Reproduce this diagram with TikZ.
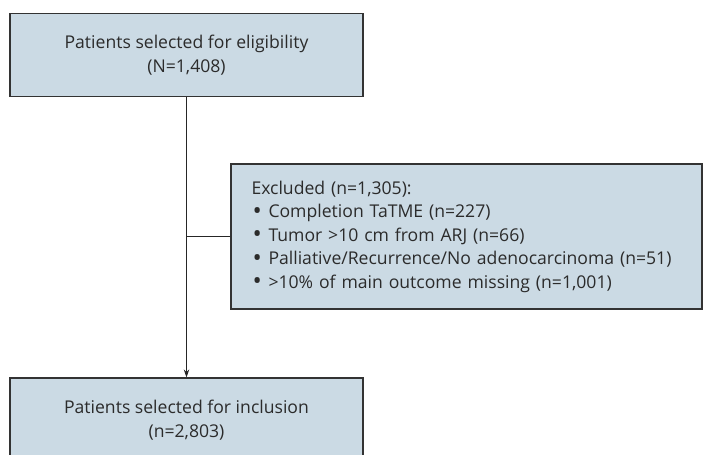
\documentclass[tikz,border=0pt]{standalone}
\usepackage{fontspec}
\setmainfont{Open Sans}
\usetikzlibrary{arrows.meta}
\definecolor{boxfill}{HTML}{CBDAE4}
\definecolor{boxline}{HTML}{333333}
\definecolor{txt}{HTML}{2B2B2B}
\newcommand{\blt}{\makebox[17pt][l]{\hspace{1pt}\raisebox{-1.8pt}{\scalebox{1.4}{\textbullet}}}}
\begin{document}
\begin{tikzpicture}[x=1pt,y=-1pt,
  box/.style={draw=boxline,line width=1.2pt,fill=boxfill,text=txt,inner sep=0pt,
    font=\fontsize{17.6}{23.5}\selectfont,align=center},
  conn/.style={draw=black!85,line width=0.9pt}]
\useasboundingbox (0,0) rectangle (704,455);
\clip (0,0) rectangle (704,455);
\node[box,minimum width=353,minimum height=83] (top) at (186.5,55) {Patients selected for eligibility\\(N=1,408)};
\node[box,minimum width=471,minimum height=145,align=left,text width=430] (excl) at (466.5,236.5)
 {Excluded (n=1,305):\\
  \blt Completion TaTME (n=227)\\
  \blt Tumor >10 cm from ARJ (n=66)\\
  \blt Palliative/Recurrence/No adenocarcinoma (n=51)\\
  \blt >10\% of main outcome missing (n=1,001)};
\node[box,minimum width=353,minimum height=84] (incl) at (186.5,420) {Patients selected for inclusion\\(n=2,803)};
\draw[conn,-{Stealth[length=8pt,width=5.5pt]}] (top.south) -- (top.south |- incl.north);
\draw[conn] (top.south |- excl.west) -- (excl.west);
\end{tikzpicture}
\end{document}
